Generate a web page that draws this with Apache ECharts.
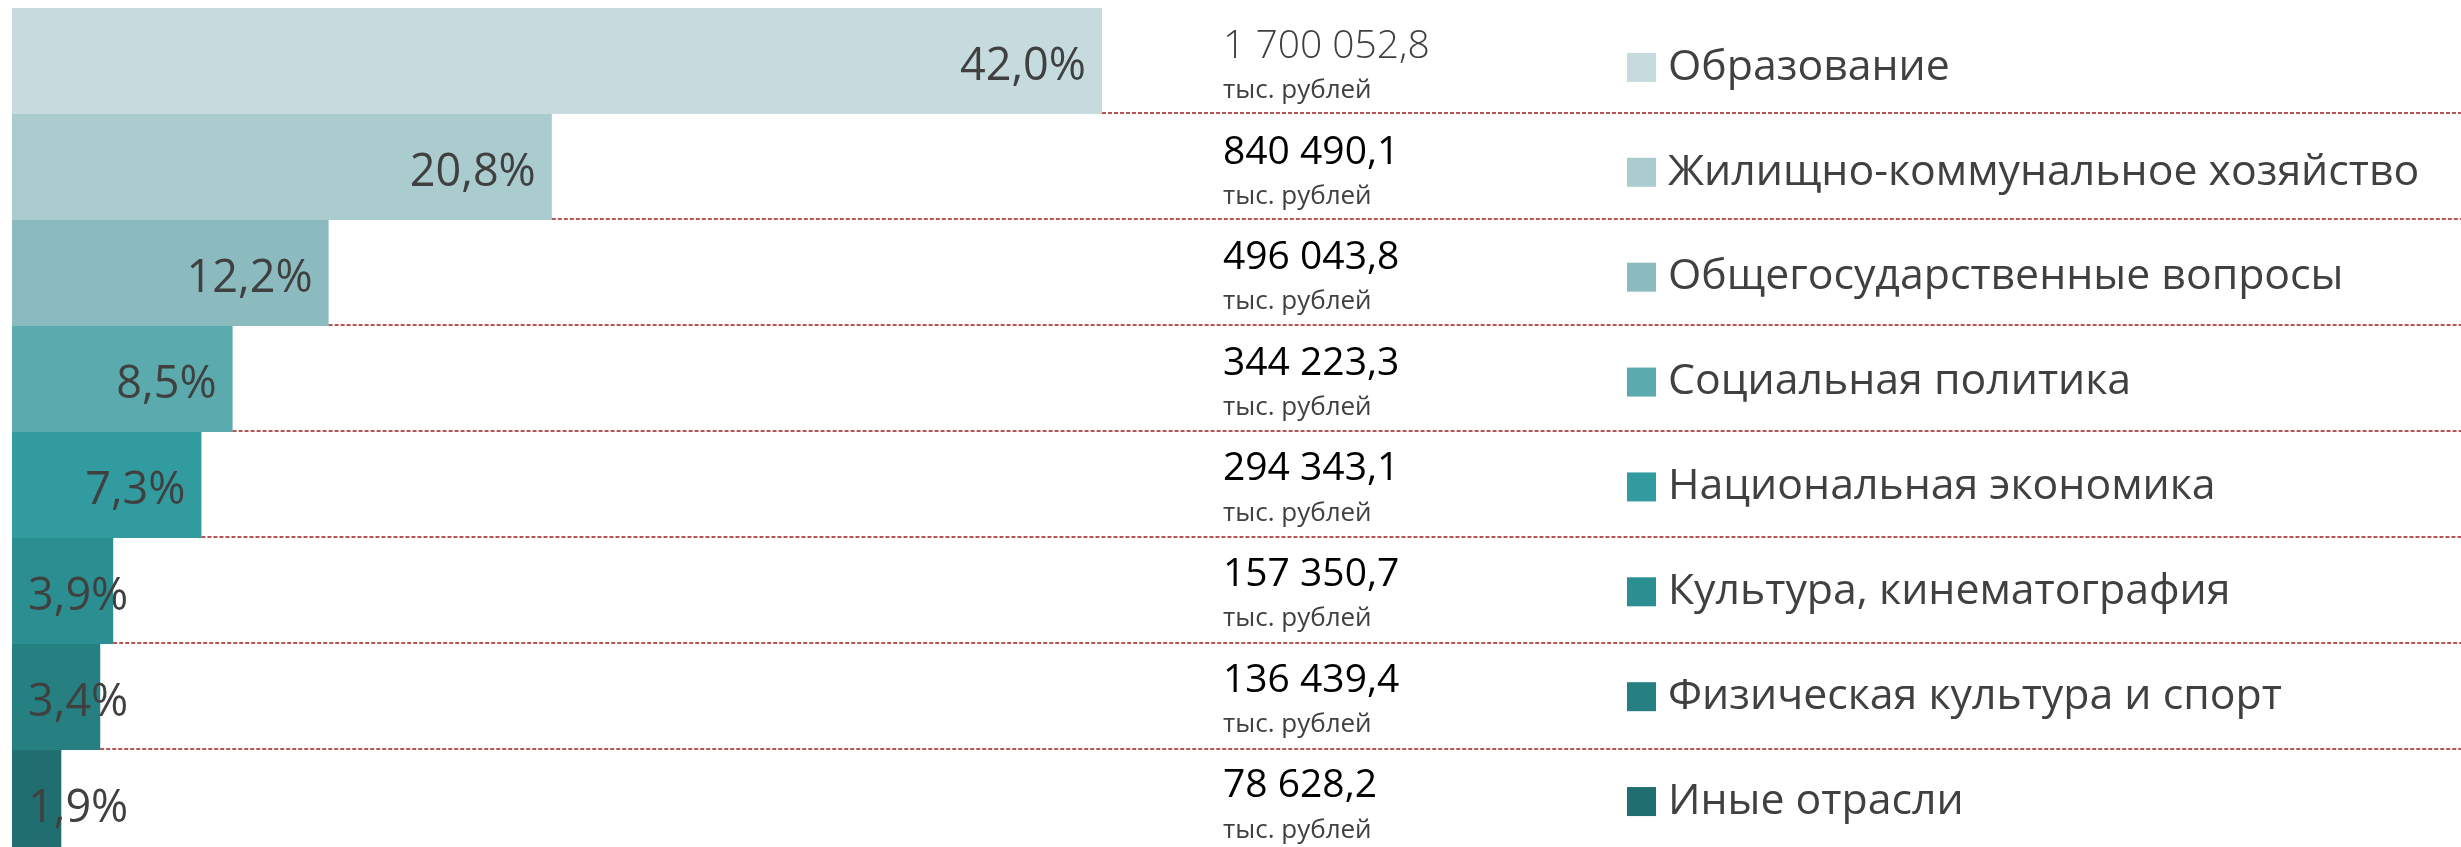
<!DOCTYPE html>
<html>
<head>
<meta charset="utf-8">
<style>
  html, body { margin: 0; padding: 0; background: #fff; }
  #main { width: 2461px; height: 847px; }
</style>
<script src="https://cdn.jsdelivr.net/npm/echarts@6/dist/echarts.min.js"></script>
</head>
<body>
<div id="main"></div>
<script>
// данные с картинки
var names = ['Образование', 'Жилищно-коммунальное хозяйство', 'Общегосударственные вопросы',
  'Социальная политика', 'Национальная экономика', 'Культура, кинематография',
  'Физическая культура и спорт', 'Иные отрасли'];
var percents = [42.0, 20.8, 12.2, 8.5, 7.3, 3.9, 3.4, 1.9];
var amounts = [1700052.8, 840490.1, 496043.8, 344223.3, 294343.1, 157350.7, 136439.4, 78628.2];
var unit = 'тыс. рублей';
var colors = ['#C5DBDE', '#AACCCF', '#8BBBBF', '#5BAAAE', '#319B9F', '#2B8F91', '#267F81', '#216E71'];

var font = "'Open Sans', 'Noto Sans', sans-serif";

function fmt(v) {
  var parts = v.toFixed(1).split('.');
  return parts[0].replace(/\B(?=(\d{3})+(?!\d))/g, ' ') + ',' + parts[1];
}

var myChart = echarts.init(document.getElementById('main'));

// квадратики легенды - по стилю на строку
var legendRich = {
  n: { fontSize: 42.8, color: '#404040', fontFamily: font, padding: [0, 0, 0, 12] }
};
colors.forEach(function (c, i) {
  legendRich['sq' + i] = { backgroundColor: c, width: 29, height: 29 };
});

var hiddenCat = {
  axisLine: { show: false }, axisTick: { show: false }, splitLine: { show: false }
};

var option = {
  backgroundColor: '#fff',
  animation: false,
  // нижний край сетки ниже холста - последняя строка обрезана, как в оригинале
  grid: [
    { left: 12, top: 8, width: 1090, height: 848, outerBoundsMode: 'none' },
    // суммы
    { left: 12, top: 7, width: 1090, height: 845, outerBoundsMode: 'none' },
    // подписи отраслей
    { left: 12, top: 9, width: 1090, height: 839, outerBoundsMode: 'none' }
  ],
  xAxis: [
    { type: 'value', min: 0, max: 42, show: false, gridIndex: 0 },
    { type: 'value', show: false, gridIndex: 1 },
    { type: 'value', show: false, gridIndex: 2 }
  ],
  yAxis: [
    Object.assign({
      type: 'category', data: names, inverse: true, gridIndex: 0,
      axisLabel: { show: false }
    }, hiddenCat),
    Object.assign({
      type: 'category', data: amounts, inverse: true, gridIndex: 1,
      position: 'right', offset: 121,
      axisLabel: {
        margin: 0, align: 'left', padding: [20, 0, 0, 0],
        formatter: function (v, i) {
          var st = i === 0 ? 'a0' : 'a';
          return '{' + st + '|' + fmt(+v) + '}\n{u|' + unit + '}';
        },
        rich: {
          a0: { fontSize: 39, color: '#404040', fontFamily: font, fontWeight: 300, lineHeight: 42 },
          a: { fontSize: 39, color: '#000', fontFamily: font, lineHeight: 42 },
          u: { fontSize: 26, color: '#404040', fontFamily: font, lineHeight: 46 }
        }
      }
    }, hiddenCat),
    Object.assign({
      type: 'category', data: names, inverse: true, gridIndex: 2,
      position: 'right', offset: 525,
      axisLabel: {
        margin: 0, align: 'left', padding: [12, 0, 0, 0],
        formatter: function (v, i) {
          return '{sq' + i + '|}{n|' + v + '}';
        },
        rich: legendRich
      }
    }, hiddenCat)
  ],
  series: [
    {
      type: 'bar',
      barCategoryGap: 0,
      data: percents.map(function (v) {
        return {
          value: v,
          label: { position: v < 5 ? 'insideLeft' : 'insideRight', distance: 16 }
        };
      }),
      itemStyle: {
        color: function (p) { return colors[p.dataIndex]; }
      },
      label: {
        show: true,
        fontSize: 45,
        fontFamily: font,
        color: '#404040',
        offset: [0, 6],
        formatter: function (p) { return p.value.toFixed(1).replace('.', ',') + '%'; }
      }
    },
    {
      // пунктирные линии от конца столбика до правого края
      type: 'custom',
      data: percents.map(function (v, i) { return [v, i]; }),
      encode: { x: 0, y: 1 },
      renderItem: function (params, api) {
        var p = api.coord([api.value(0), api.value(1)]);
        var h = api.size([0, 1])[1];
        var y = p[1] + h / 2 - 1;
        return {
          type: 'line',
          shape: { x1: p[0], y1: y, x2: api.getWidth(), y2: y },
          style: { stroke: '#9b1c1f', lineWidth: 1.5, lineDash: [4, 2] }
        };
      },
      z: 3
    }
  ]
};

myChart.setOption(option);
</script>
</body>
</html>
